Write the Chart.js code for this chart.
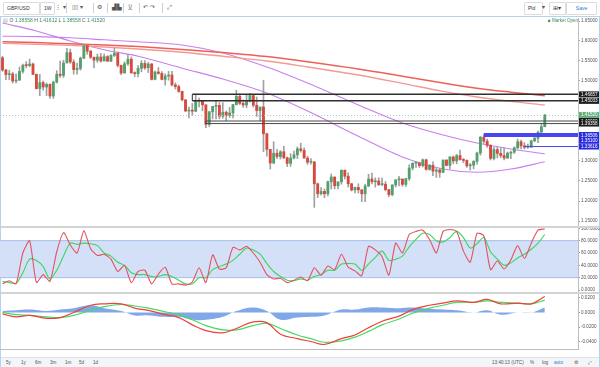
<!DOCTYPE html>
<html>
<head>
<meta charset="utf-8">
<script src="https://cdn.jsdelivr.net/npm/chart.js@4.4.1/dist/chart.umd.min.js"></script>
<style>
  body { margin: 0; width: 600px; height: 367px; overflow: hidden; background: #fff; position: relative;
         font-family: 'Liberation Sans', Arial, sans-serif; color: #444; }
  canvas { position: absolute; left: 0; }
  .btn { position: absolute; top: 2px; height: 11px; border: 1px solid #dcdcdc; border-radius: 1px; background: #fff;
         font-size: 5px; line-height: 11px; padding-left: 3px; box-sizing: content-box; color: #333; }
  .ico { position: absolute; top: 2px; height: 11px; font-size: 6px; line-height: 11px; color: #555; }
  .sep { position: absolute; background: #d0d0d0; }
  #legend { position: absolute; left: 3px; top: 17px; font-size: 5px; line-height: 7px; color: #555; }
  #legend b { font-weight: normal; color: #3f8c5c; }
  #market { position: absolute; left: 548px; top: 17px; font-size: 4.5px; line-height: 7px; color: #3f8c5c; }
  #bottom { position: absolute; left: 1px; top: 357px; width: 598px; height: 9px; background: #f3f5f8;
            border-top: 1px solid #dde3ea; font-size: 4.6px; line-height: 9px; color: #555; }
  #bottom span { position: absolute; }
</style>
</head>
<body>
<!-- toolbar -->
<div class="btn" style="left:3px;width:32px">GBP/USD</div>
<div class="btn" style="left:40px;width:10px">1W</div>
<div class="ico" style="left:55px">⋮&nbsp;▾</div>
<div class="sep" style="left:66px;top:3px;width:1px;height:10px"></div>
<div class="ico" style="left:72px">▯▯&nbsp;▾</div>
<div class="sep" style="left:93px;top:3px;width:1px;height:10px"></div>
<div class="ico" style="left:97px">⚙</div>
<div class="sep" style="left:107px;top:3px;width:1px;height:10px"></div>
<div class="ico" style="left:112px">▟▙</div>
<div class="sep" style="left:123px;top:3px;width:1px;height:10px"></div>
<div class="ico" style="left:128px">⟆⟅</div>
<div class="sep" style="left:139px;top:3px;width:1px;height:10px"></div>
<div class="ico" style="left:143px">↶&nbsp;↷</div>
<div class="sep" style="left:162px;top:3px;width:1px;height:10px"></div>
<div class="ico" style="left:167px">⤢</div>
<div class="btn" style="left:524px;width:14px">Pld</div>
<div class="ico" style="left:542px">▾</div>
<div class="btn" style="left:549px;width:12px;font-size:6px">⊞▾</div>
<div class="btn" style="left:566px;width:29px;color:#2a7ad5;text-align:center;padding-left:0">Save</div>
<!-- frame -->
<div class="sep" style="left:0;top:16px;width:600px;height:1px;background:#b6d3ee"></div>
<div class="sep" style="left:0;top:16px;width:1px;height:351px;background:#b6d3ee"></div>
<div class="sep" style="left:599px;top:16px;width:1px;height:351px;background:#b6d3ee"></div>
<div class="sep" style="left:0;top:366px;width:600px;height:1px;background:#b6d3ee"></div>

<canvas id="priceChart" width="600" height="208" style="top:18px"></canvas>
<canvas id="stochChart" width="600" height="64" style="top:228px"></canvas>
<canvas id="macdChart" width="600" height="63" style="top:294px"></canvas>

<div class="sep" style="left:1px;top:226px;width:598px;height:2px;background:#d4d4d4"></div>
<div class="sep" style="left:1px;top:292px;width:598px;height:2px;background:#d4d4d4"></div>

<div id="legend"><span style="color:#999">▤</span> O <b>1.38558</b> H <b>1.41612</b> L <b>1.38558</b> C <b>1.41520</b></div>
<div id="market">■ Market Open</div>

<div id="bottom">
  <span style="left:5px">5y</span><span style="left:20px">1y</span><span style="left:34px">6m</span>
  <span style="left:49px">3m</span><span style="left:64px">1m</span><span style="left:78px">5d</span>
  <span style="left:92px">1d</span>
  <span style="left:491px">13:40:13 (UTC)</span><span style="left:529px">%</span>
  <span style="left:541px">log</span><span style="left:553px;color:#2a7ad5">auto</span>
  <span style="left:573px">⚙</span><span style="left:587px">⤢</span>
</div>

<script>
// weekly GBP/USD candles, first week starts 2014-12-29
const opens = [1.5581,1.5275,1.5160,1.5175,1.5000,1.5025,1.5240,1.5395,1.5385,1.5425,
  1.5165,1.4810,1.4960,1.4850,1.4915,1.4625,1.4970,1.5170,1.5140,1.5450,
  1.5710,1.5475,1.5285,1.5315,1.5570,1.5880,1.5745,1.5595,1.5520,1.5600,
  1.5500,1.5610,1.5495,1.5640,1.5695,1.5390,1.5200,1.5430,1.5545,1.5200,
  1.5185,1.5315,1.5440,1.5330,1.5425,1.5040,1.5225,1.5190,1.5040,1.5125,
  1.5150,1.4900,1.4860,1.4740,1.4530,1.4250,1.4270,1.4245,1.4495,1.4500,
  1.4405,1.3915,1.4230,1.4365,1.4390,1.4120,1.4220,1.4140,1.4200,1.4410,
  1.4615,1.4440,1.4400,1.4495,1.4635,1.4395,1.4260,1.4350,1.3680,1.3290,
  1.2950,1.3195,1.3110,1.3230,1.3080,1.2940,1.3075,1.3155,1.3305,1.3265,
  1.3070,1.2970,1.2975,1.2430,1.2180,1.2240,1.2180,1.2480,1.2600,1.2380,
  1.2480,1.2770,1.2620,1.2430,1.2275,1.2340,1.2280,1.2180,1.2375,1.2550,
  1.2480,1.2500,1.2410,1.2420,1.2285,1.2160,1.2400,1.2530,1.2550,1.2415,
  1.2560,1.2825,1.2945,1.2950,1.2885,1.3030,1.2790,1.2890,1.2745,1.2775,
  1.2715,1.3025,1.2890,1.3100,1.3000,1.3135,1.3035,1.3015,1.2880,1.2895,
  1.2990,1.3200,1.3595,1.3495,1.3390,1.3065,1.3285,1.3190,1.3135,1.3075,
  1.3195,1.3220,1.3330,1.3480,1.3380,1.3345,1.3345,1.3505,1.3570,1.3720,
  1.38558];
const highs = [1.5615,1.5290,1.5270,1.5220,1.5180,1.5350,1.5420,1.5485,1.5550,1.5450,
  1.5180,1.5165,1.5000,1.4950,1.4930,1.5000,1.5260,1.5500,1.5520,1.5815,
  1.5800,1.5535,1.5450,1.5600,1.5930,1.5890,1.5770,1.5600,1.5675,1.5690,
  1.5675,1.5635,1.5660,1.5820,1.5725,1.5400,1.5480,1.5660,1.5600,1.5230,
  1.5385,1.5510,1.5510,1.5470,1.5440,1.5245,1.5335,1.5235,1.5180,1.5240,
  1.5240,1.4955,1.4900,1.4750,1.4530,1.4350,1.4440,1.4670,1.4570,1.4500,
  1.4405,1.4240,1.4365,1.4515,1.4460,1.4460,1.4250,1.4340,1.4415,1.4770,
  1.4680,1.4530,1.4670,1.4690,1.4650,1.4600,1.4350,1.5020,1.3700,1.3290,
  1.3480,1.3290,1.3260,1.3370,1.3100,1.3185,1.3245,1.3350,1.3445,1.3330,
  1.3120,1.3060,1.2990,1.2450,1.2335,1.2300,1.2500,1.2675,1.2600,1.2475,
  1.2775,1.2775,1.2705,1.2440,1.2350,1.2430,1.2280,1.2415,1.2670,1.2700,
  1.2580,1.2580,1.2570,1.2485,1.2290,1.2410,1.2530,1.2615,1.2550,1.2570,
  1.2905,1.2950,1.2990,1.2975,1.3050,1.3045,1.2915,1.2980,1.2815,1.2815,
  1.3025,1.3030,1.3110,1.3125,1.3165,1.3270,1.3060,1.3030,1.2940,1.3010,
  1.3225,1.3615,1.3655,1.3545,1.3410,1.3340,1.3340,1.3320,1.3320,1.3225,
  1.3250,1.3355,1.3550,1.3520,1.3460,1.3425,1.3515,1.3615,1.3745,1.3945,
  1.41612];
const lows = [1.5240,1.5035,1.5035,1.4950,1.4950,1.5010,1.5195,1.5330,1.5355,1.5160,
  1.4800,1.4630,1.4770,1.4635,1.4565,1.4565,1.4950,1.5090,1.5090,1.5450,
  1.5440,1.5170,1.5170,1.5270,1.5560,1.5670,1.5560,1.5330,1.5465,1.5470,
  1.5500,1.5490,1.5485,1.5610,1.5350,1.5160,1.5200,1.5390,1.5200,1.5110,
  1.5105,1.5230,1.5290,1.5210,1.5025,1.5030,1.5170,1.5025,1.4895,1.5020,
  1.4880,1.4800,1.4715,1.4500,1.4235,1.4080,1.4140,1.4230,1.4350,1.4255,
  1.3835,1.3865,1.4050,1.4055,1.4055,1.4070,1.4005,1.4090,1.4075,1.4400,
  1.4410,1.4340,1.4330,1.4480,1.4350,1.4115,1.4010,1.3230,1.3120,1.2800,
  1.2930,1.3060,1.3050,1.3060,1.2860,1.2865,1.3050,1.3060,1.3220,1.3090,
  1.2915,1.2920,1.1840,1.2085,1.2150,1.2080,1.2130,1.2300,1.2300,1.2300,
  1.2420,1.2550,1.2350,1.2250,1.2200,1.2200,1.1985,1.1985,1.2360,1.2430,
  1.2345,1.2385,1.2385,1.2250,1.2110,1.2130,1.2350,1.2375,1.2370,1.2365,
  1.2515,1.2775,1.2840,1.2840,1.2850,1.2770,1.2770,1.2635,1.2590,1.2590,
  1.2710,1.2880,1.2810,1.2930,1.2930,1.3020,1.2955,1.2840,1.2775,1.2805,
  1.2920,1.3145,1.3440,1.3340,1.3025,1.3030,1.3075,1.3085,1.3025,1.3060,
  1.3060,1.3190,1.3300,1.3300,1.3300,1.3315,1.3340,1.3480,1.3460,1.3715,
  1.38558];
const closes = [1.5275,1.5160,1.5175,1.5000,1.5025,1.5240,1.5395,1.5385,1.5425,1.5165,
  1.4810,1.4960,1.4850,1.4915,1.4625,1.4970,1.5170,1.5140,1.5450,1.5710,
  1.5475,1.5285,1.5315,1.5570,1.5880,1.5745,1.5595,1.5520,1.5600,1.5500,
  1.5610,1.5495,1.5640,1.5695,1.5390,1.5200,1.5430,1.5545,1.5200,1.5185,
  1.5315,1.5440,1.5330,1.5425,1.5040,1.5225,1.5190,1.5040,1.5125,1.5150,
  1.4900,1.4860,1.4740,1.4530,1.4250,1.4270,1.4245,1.4495,1.4500,1.4405,
  1.3915,1.4230,1.4365,1.4390,1.4120,1.4220,1.4140,1.4200,1.4410,1.4615,
  1.4440,1.4400,1.4495,1.4635,1.4395,1.4260,1.4350,1.3680,1.3290,1.2950,
  1.3195,1.3110,1.3230,1.3080,1.2940,1.3075,1.3155,1.3305,1.3265,1.3070,
  1.2970,1.2975,1.2430,1.2180,1.2240,1.2180,1.2480,1.2600,1.2380,1.2480,
  1.2770,1.2620,1.2430,1.2275,1.2340,1.2280,1.2180,1.2375,1.2550,1.2480,
  1.2500,1.2410,1.2420,1.2285,1.2160,1.2400,1.2530,1.2550,1.2415,1.2560,
  1.2825,1.2945,1.2950,1.2885,1.3030,1.2790,1.2890,1.2745,1.2775,1.2715,
  1.3025,1.2890,1.3100,1.3000,1.3135,1.3035,1.3015,1.2880,1.2895,1.2990,
  1.3200,1.3595,1.3495,1.3390,1.3065,1.3285,1.3190,1.3135,1.3075,1.3195,
  1.3220,1.3330,1.3480,1.3380,1.3345,1.3345,1.3505,1.3570,1.3720,1.3856,
  1.41520];

// moving averages read at a few weeks
const maWeeks = [0, 10, 20, 30, 40, 53, 65, 78, 90, 105, 118, 130, 140, 150, 160];
const maFast = [1.645, 1.625, 1.600, 1.578, 1.562, 1.532, 1.505, 1.470, 1.425, 1.362, 1.310, 1.280, 1.272, 1.280, 1.298];
const maSlow = [1.612, 1.611, 1.608, 1.603, 1.598, 1.590, 1.570, 1.535, 1.495, 1.440, 1.395, 1.365, 1.345, 1.330, 1.318];
const maLongA = [1.598, 1.596, 1.593, 1.590, 1.586, 1.579, 1.571, 1.561, 1.548, 1.530, 1.512, 1.495, 1.482, 1.472, 1.463];
const maLongB = [1.594, 1.592, 1.589, 1.585, 1.580, 1.572, 1.562, 1.550, 1.535, 1.515, 1.494, 1.474, 1.460, 1.449, 1.440];

// stochastic, every second week
const stochK = [10,15,10,60,80, 12,25,14,62,93, 73,60,96,67,56, 58,50,30,40,12,
  30,32,10,26,37, 10,10,8,13,36, 12,57,34,36,69, 65,71,60,45,25,
  18,19,12,16,21, 15,36,24,39,33, 58,37,31,23,71, 65,54,24,76,60,
  90,95,97,82,60, 95,98,95,63,45, 92,88,33,47,34, 49,72,51,76,97, 99];
const stochD = [14,12,11,28,50, 48,38,18,32,55, 76,74,76,75,72, 60,55,45,40,28,
  25,25,22,22,25, 22,16,10,10,20, 20,33,38,42,48, 58,68,65,58,43,
  30,22,16,15,18, 16,22,25,32,32, 42,43,42,32,42, 53,63,48,50,55,
  70,82,92,90,80, 78,85,95,85,68, 75,85,62,50,40, 44,52,58,66,76, 90];

// MACD
const macdWeeks = [0,4,8,13,17,21,26,30,35,39,43,48,52,56,60,65,69,74,78,82,87,91,95,100,104,108,112,117,121,126,130,134,139,143,147,152,156,160];
const macdLine = [-0.002,-0.006,-0.004,-0.008,-0.007,0.000,0.010,0.012,0.012,0.006,0.003,-0.003,-0.007,-0.017,-0.025,-0.028,-0.022,-0.013,-0.014,-0.030,-0.036,-0.040,-0.044,-0.036,-0.031,-0.021,-0.012,-0.005,0.004,0.010,0.013,0.016,0.014,0.018,0.012,0.013,0.012,0.022];
const signalLine = [0.000,-0.003,-0.004,-0.006,-0.007,-0.004,0.003,0.008,0.011,0.009,0.006,0.001,-0.003,-0.010,-0.018,-0.024,-0.024,-0.018,-0.015,-0.022,-0.031,-0.036,-0.041,-0.039,-0.034,-0.026,-0.017,-0.009,-0.001,0.006,0.010,0.014,0.014,0.016,0.014,0.013,0.012,0.017];
const macdHist = [0.002,0.003,0.004,0.002,0.004,0.006,0.010,0.006,0.002,-0.004,-0.004,-0.006,-0.006,-0.010,-0.010,-0.006,0.002,0.007,0.002,-0.010,-0.007,-0.006,-0.004,0.004,0.004,0.007,0.007,0.006,0.007,0.005,0.004,0.003,0.000,0.003,-0.003,0.000,0.000,0.007];

// axes
const priceTicks = [1.15, 1.20, 1.25, 1.30, 1.35, 1.40, 1.45, 1.50, 1.55, 1.60, 1.65];
const stochTicks = [0, 20, 40, 60, 80, 100];
const macdTicks = [-0.04, -0.02, 0, 0.02];
const timeTickWeeks = [5, 9, 18, 27, 36, 44, 53, 62, 70, 79, 88, 97, 105, 114, 122, 131, 140, 149, 157, 166];
const timeTickNames = ['Feb','Mar','May','Jul','Sep','Nov','2016','Mar','May','Jul','Sep','Nov','2017','Mar','May','Jul','Sep','Nov','2018','Mar'];

// drawn levels (pairs joined at their left edge)
const levelPrices = [1.46657, 1.45033, 1.40000, 1.39358, 1.36506, 1.35100, 1.33616];
const levelStartWeeks = [56, 56, 60, 60, 142, 142, 154];
const levelPairs = [[0, 1], [2, 3]];
const lastPrice = 1.41520;

const levelStyle = [
  { color: '#2e2e2e', width: 1.5, box: '#1e1e1e' },
  { color: '#2e2e2e', width: 1.5, box: '#1e1e1e' },
  { color: '#4a4a4a', width: 1, box: '#1e1e1e' },
  { color: '#4a4a4a', width: 1, box: '#1e1e1e' },
  { color: '#4646f2', width: 4, box: '#2a2ae0' },
  { color: '#4646f2', width: 0, box: '#2a2ae0' },
  { color: '#4646f2', width: 1, box: '#2a2ae0' }
];

const UP = '#52a06c';
const DOWN = '#d8493d';
const TICK_FONT = { family: "'Liberation Sans', Arial, sans-serif", size: 4.6 };
const X_MIN = -0.74, X_MAX = 169.8;

Chart.defaults.animation = false;
Chart.defaults.plugins.legend.display = false;
Chart.defaults.plugins.tooltip.enabled = false;
Chart.defaults.font.family = TICK_FONT.family;

const pts = (weeks, vals) => vals.map((v, i) => ({ x: weeks[i], y: v }));
const everyOther = (vals) => vals.map((v, i) => ({ x: i * 2, y: v }));

function rightAxis(min, max, ticks, digits) {
  return {
    position: 'right', min: min, max: max,
    grid: { display: true, drawOnChartArea: false, drawTicks: true, tickLength: 2, color: '#999' },
    border: { display: true, color: '#bdbdbd' },
    ticks: { font: TICK_FONT, color: '#555', padding: 1, callback: v => v.toFixed(digits) },
    afterBuildTicks: s => { s.ticks = ticks.map(v => ({ value: v })); },
    afterFit: s => { s.width = 22; s.paddingTop = 0; s.paddingBottom = 0; }
  };
}
const hiddenX = { type: 'linear', min: X_MIN, max: X_MAX, display: false, offset: false };

// price pane
const levelsPlugin = {
  id: 'levels',
  afterDatasetsDraw(chart) {
    const { ctx, chartArea: a, scales: { x, y } } = chart;
    ctx.save();
    ctx.beginPath(); ctx.rect(a.left, a.top, a.width, a.height); ctx.clip();
    const yl = Math.round(y.getPixelForValue(lastPrice)) + 0.5;
    ctx.strokeStyle = '#a8c7c0'; ctx.lineWidth = 1; ctx.setLineDash([1, 2]);
    ctx.beginPath(); ctx.moveTo(a.left, yl); ctx.lineTo(a.right, yl); ctx.stroke();
    ctx.setLineDash([]);
    levelPrices.forEach((p, i) => {
      const st = levelStyle[i];
      if (!st.width) return;
      const py = y.getPixelForValue(p);
      ctx.strokeStyle = st.color; ctx.lineWidth = st.width;
      ctx.beginPath(); ctx.moveTo(x.getPixelForValue(levelStartWeeks[i]), py); ctx.lineTo(a.right, py); ctx.stroke();
    });
    levelPairs.forEach(([i, j]) => {
      const px = x.getPixelForValue(levelStartWeeks[i]);
      ctx.strokeStyle = levelStyle[i].color; ctx.lineWidth = 1;
      ctx.beginPath(); ctx.moveTo(px, y.getPixelForValue(levelPrices[i])); ctx.lineTo(px, y.getPixelForValue(levelPrices[j])); ctx.stroke();
    });
    ctx.restore();
  },
  afterDraw(chart) {
    const { ctx, chartArea: a, scales: { y } } = chart;
    const boxes = levelPrices.map((p, i) => ({ p: p, bg: levelStyle[i].box }));
    boxes.push({ p: lastPrice, bg: '#63ad7d' });
    ctx.save();
    ctx.font = '4.6px ' + TICK_FONT.family; ctx.textBaseline = 'middle';
    boxes.forEach(b => {
      const py = y.getPixelForValue(b.p);
      ctx.fillStyle = b.bg; ctx.fillRect(a.right + 1, py - 3, 20, 6);
      ctx.fillStyle = '#fff'; ctx.fillText(b.p.toFixed(5), a.right + 3, py + 0.3);
    });
    ctx.restore();
  }
};

const lineSet = (data, color, width, order) => ({
  type: 'line', data: data, borderColor: color, borderWidth: width, pointRadius: 0,
  tension: 0.4, cubicInterpolationMode: 'monotone', order: order
});

new Chart(document.getElementById('priceChart'), {
  type: 'bar',
  data: {
    datasets: [
      lineSet(pts(maWeeks, maLongB), '#f39a94', 1.4, 3),
      lineSet(pts(maWeeks, maLongA), '#ee5f58', 1.5, 3),
      lineSet(pts(maWeeks, maSlow), '#c77ff0', 1.1, 3),
      lineSet(pts(maWeeks, maFast), '#c77ff0', 1.1, 3),
      { data: closes.map((c, i) => ({ x: i, y: [lows[i], highs[i]] })), backgroundColor: '#a0a0a0',
        barThickness: 1, grouped: false, order: 1 },
      { data: closes.map((c, i) => ({ x: i, y: [opens[i], c] })),
        backgroundColor: closes.map((c, i) => c >= opens[i] ? UP : DOWN),
        barThickness: 2.2, minBarLength: 1, grouped: false, order: 0 }
    ]
  },
  options: {
    responsive: false,
    layout: { padding: 0 },
    scales: { x: hiddenX, y: rightAxis(1.1375, 1.6575, priceTicks, 5) }
  },
  plugins: [levelsPlugin]
});

// stochastic pane
const bandPlugin = {
  id: 'band',
  beforeDatasetsDraw(chart) {
    const { ctx, chartArea: a, scales: { y } } = chart;
    const top = y.getPixelForValue(80), bot = y.getPixelForValue(20);
    ctx.save();
    ctx.fillStyle = '#d3e0f7'; ctx.fillRect(a.left, top, a.width, bot - top);
    ctx.strokeStyle = '#a7bfea'; ctx.lineWidth = 1;
    ctx.beginPath(); ctx.moveTo(a.left, top); ctx.lineTo(a.right, top);
    ctx.moveTo(a.left, bot); ctx.lineTo(a.right, bot); ctx.stroke();
    ctx.restore();
  }
};

new Chart(document.getElementById('stochChart'), {
  type: 'line',
  data: {
    datasets: [
      { data: everyOther(stochK), borderColor: '#e5525e', borderWidth: 1.1, pointRadius: 0, tension: 0.2 },
      { data: everyOther(stochD), borderColor: '#3ad65c', borderWidth: 1.1, pointRadius: 0, tension: 0.3 }
    ]
  },
  options: {
    responsive: false,
    layout: { padding: 0 },
    scales: { x: hiddenX, y: rightAxis(-3.2, 100.5, stochTicks, 4) }
  },
  plugins: [bandPlugin]
});

// MACD pane with the time axis
new Chart(document.getElementById('macdChart'), {
  type: 'line',
  data: {
    datasets: [
      { data: pts(macdWeeks, macdHist), borderWidth: 0, pointRadius: 0, tension: 0.4,
        fill: 'origin', backgroundColor: 'rgba(96,146,226,0.8)', order: 3 },
      { data: pts(macdWeeks, signalLine), borderColor: '#45da64', borderWidth: 1.2, pointRadius: 0, tension: 0.4, order: 2 },
      { data: pts(macdWeeks, macdLine), borderColor: '#f0403c', borderWidth: 1.2, pointRadius: 0, tension: 0.4, order: 1 }
    ]
  },
  options: {
    responsive: false,
    layout: { padding: 0 },
    scales: {
      x: {
        type: 'linear', min: X_MIN, max: X_MAX, offset: false,
        grid: { display: false },
        border: { display: true, color: '#bdbdbd' },
        ticks: {
          color: '#555', padding: 1, autoSkip: false, maxRotation: 0,
          font: ctx => ({ family: TICK_FONT.family, size: 4.6,
                          weight: (timeTickNames[ctx.index] || '').length === 4 ? 'bold' : 'normal' }),
          callback: (v, i) => timeTickNames[i]
        },
        afterBuildTicks: s => { s.ticks = timeTickWeeks.map(v => ({ value: v })); },
        afterFit: s => { s.height = 8; s.paddingLeft = 0; s.paddingRight = 0; }
      },
      y: rightAxis(-0.0503, 0.0255, macdTicks, 4)
    }
  }
});
</script>
</body>
</html>
